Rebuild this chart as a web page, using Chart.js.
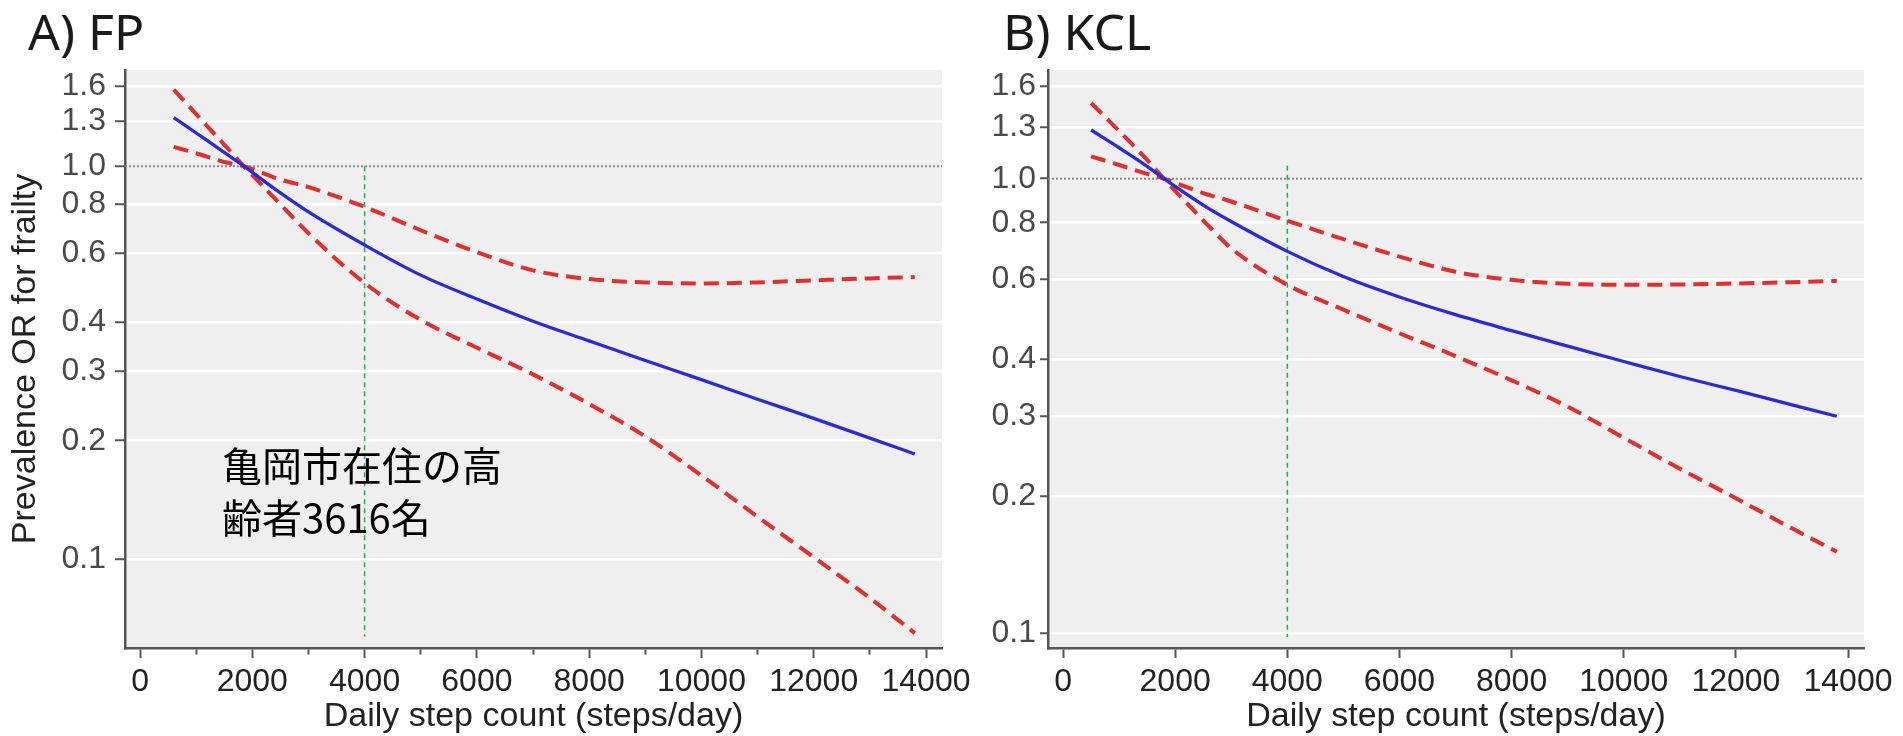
<!DOCTYPE html>
<html>
<head>
<meta charset="utf-8">
<script src="https://cdn.jsdelivr.net/npm/chart.js@4.4.1/dist/chart.umd.min.js"></script>
<style>
  html, body { margin: 0; padding: 0; background: #fff; }
  body { width: 1903px; height: 736px; position: relative; overflow: hidden; }
  canvas { position: absolute; top: 0; }
  #fp { left: 0; }
  #kcl { left: 960px; }
</style>
</head>
<body>
<canvas id="fp" width="985" height="736"></canvas>
<canvas id="kcl" width="943" height="736"></canvas>
<script>
// --- data ---
const fpSteps  = [600, 1000, 1500, 1850, 2500, 3000, 4000, 5000, 6000, 7000, 8000, 9000, 10000, 11000, 12000, 13000, 13800];
const fpOR     = [1.33, 1.215, 1.085, 1.0, 0.855, 0.765, 0.63, 0.528, 0.459, 0.403, 0.359, 0.32, 0.286, 0.255, 0.228, 0.203, 0.185];
const fpUpper  = [1.12, 1.079, 1.025, 1.0, 0.925, 0.885, 0.788, 0.687, 0.604, 0.543, 0.516, 0.506, 0.503, 0.506, 0.512, 0.518, 0.522];
const fpLower  = [1.567, 1.357, 1.135, 1.0, 0.8, 0.675, 0.504, 0.406, 0.345, 0.295, 0.248, 0.205, 0.163, 0.128, 0.101, 0.0795, 0.0647];

const kclSteps = [500, 1000, 1500, 1800, 2500, 3000, 4000, 5000, 6000, 7000, 8000, 9000, 10000, 11000, 12000, 13000, 13800];
const kclOR    = [1.28, 1.17, 1.065, 1.0, 0.875, 0.805, 0.692, 0.609, 0.549, 0.502, 0.463, 0.428, 0.396, 0.367, 0.342, 0.318, 0.3];
const kclUpper = [1.12, 1.072, 1.025, 1.0, 0.93, 0.891, 0.808, 0.736, 0.674, 0.624, 0.599, 0.587, 0.584, 0.585, 0.588, 0.592, 0.596];
const kclLower = [1.468, 1.274, 1.1, 1.0, 0.81, 0.703, 0.584, 0.515, 0.457, 0.407, 0.36, 0.315, 0.269, 0.23, 0.198, 0.17, 0.151];

const yTickValues = [0.1, 0.2, 0.3, 0.4, 0.6, 0.8, 1.0, 1.3, 1.6];
const xTicksFP  = [0, 1000, 2000, 3000, 4000, 5000, 6000, 7000, 8000, 9000, 10000, 11000, 12000, 13000, 14000];
const xTicksKCL = [0, 2000, 4000, 6000, 8000, 10000, 12000, 14000];

const xRange = [-268, 14285];
const yRangeFP = [0.0593, 1.758];
const yRangeKCL = [0.0927, 1.735];

const cutoffStep = 4000;
const cutoffSpanFP = [1.0, 0.0633];
const cutoffSpanKCL = [1.068, 0.098];

const noteLines = ['亀岡市在住の高', '齢者3616名'];
const notePos = { x: 1460, y: 0.173 };

const BLUE = '#2b2bd0';
const RED = '#e0302e';

Chart.defaults.font.family = '"Liberation Sans", Arial, sans-serif';

const plotBackground = {
  id: 'plotBackground',
  beforeDraw(chart) {
    const { ctx, chartArea: a } = chart;
    ctx.save();
    ctx.fillStyle = '#efefef';
    ctx.fillRect(a.left, a.top, a.right - a.left, a.bottom - a.top);
    ctx.restore();
  }
};

const panelText = {
  id: 'panelText',
  afterDraw(chart, args, opts) {
    const ctx = chart.ctx;
    ctx.save();
    ctx.fillStyle = '#1a1a1a';
    ctx.font = '50px "Noto Sans"';
    ctx.textBaseline = 'alphabetic';
    ctx.fillText(opts.label, opts.labelX, 50);
    if (opts.note) {
      const x = chart.scales.x.getPixelForValue(opts.note.x);
      const y = chart.scales.y.getPixelForValue(opts.note.y);
      ctx.fillStyle = '#000';
      ctx.font = '40px "Noto Sans CJK JP"';
      ctx.textBaseline = 'middle';
      opts.note.lines.forEach((t, i) => ctx.fillText(t, x, y + i * 52));
    }
    ctx.restore();
  }
};

const pairs = (xs, ys) => xs.map((x, i) => ({ x: x, y: ys[i] }));

function makeChart(id, c) {
  const curve = { pointRadius: 0, fill: false, cubicInterpolationMode: 'monotone' };
  return new Chart(document.getElementById(id), {
    type: 'line',
    data: {
      datasets: [
        { ...curve, data: pairs(c.steps, c.or), borderColor: BLUE, borderWidth: 3.3 },
        { ...curve, data: pairs(c.steps, c.upper), borderColor: RED, borderWidth: 4, borderDash: [15, 8] },
        { ...curve, data: pairs(c.steps, c.lower), borderColor: RED, borderWidth: 4, borderDash: [15, 8] },
        { data: [{ x: cutoffStep, y: c.cutoff[0] }, { x: cutoffStep, y: c.cutoff[1] }],
          borderColor: '#1fae5a', borderWidth: 1.5, borderDash: [5, 4], pointRadius: 0 },
        { data: [{ x: xRange[0], y: 1 }, { x: xRange[1], y: 1 }],
          borderColor: '#8a8a8a', borderWidth: 2, borderDash: [2, 2], pointRadius: 0 }
      ]
    },
    options: {
      responsive: false,
      animation: false,
      devicePixelRatio: 1,
      layout: { padding: { top: 70, right: c.padRight, left: 0, bottom: 0 } },
      plugins: {
        legend: { display: false },
        tooltip: { enabled: false },
        panelText: { label: c.label, labelX: c.labelX, note: c.note }
      },
      scales: {
        x: {
          type: 'linear',
          min: xRange[0],
          max: xRange[1],
          afterBuildTicks: s => { s.ticks = c.xTicks.map(v => ({ value: v })); },
          afterFit: s => { s.height = 88; s.paddingLeft = 0; s.paddingRight = 0; },
          ticks: {
            autoSkip: false, maxRotation: 0, padding: 5, color: '#222',
            font: { size: 32 },
            callback: v => (v % 2000 === 0 ? String(v) : '')
          },
          grid: {
            drawOnChartArea: false, tickLength: 10, tickColor: '#555', tickWidth: 2,
            tickBorderDash: t => (t.tick && t.tick.value % 2000 !== 0 ? [5, 40] : [])
          },
          border: { color: '#555', width: 2.5 },
          title: {
            display: true, text: 'Daily step count (steps/day)', color: '#222',
            font: { size: 34, lineHeight: 1 }, padding: { top: 0, bottom: 2 }
          }
        },
        y: {
          type: 'logarithmic',
          min: c.yRange[0],
          max: c.yRange[1],
          afterBuildTicks: s => { s.ticks = yTickValues.map(v => ({ value: v })); },
          afterFit: s => { s.width = c.yWidth; s.paddingTop = 0; s.paddingBottom = 0; },
          ticks: {
            autoSkip: false, padding: c.tickPad, color: '#4a4a4a',
            font: { size: 32 },
            callback: v => Number(v).toFixed(1)
          },
          grid: {
            color: t => (t.tick && t.tick.value === 1 ? 'rgba(0,0,0,0)' : '#ffffff'),
            lineWidth: 2.5, tickColor: '#555', tickWidth: 2, tickLength: c.tickLen
          },
          border: { color: '#555', width: 2.5 },
          title: {
            display: c.yTitle, text: 'Prevalence OR for frailty', color: '#222',
            font: { size: 34, lineHeight: 1 }, padding: { top: 9, bottom: 0 }
          }
        }
      }
    },
    plugins: [plotBackground, panelText]
  });
}

makeChart('fp', {
  steps: fpSteps, or: fpOR, upper: fpUpper, lower: fpLower,
  xTicks: xTicksFP, yRange: yRangeFP, cutoff: cutoffSpanFP,
  label: 'A) FP', labelX: 28, yTitle: true, yWidth: 125, tickLen: 10, tickPad: 9, padRight: 43,
  note: { lines: noteLines, x: notePos.x, y: notePos.y }
});

makeChart('kcl', {
  steps: kclSteps, or: kclOR, upper: kclUpper, lower: kclLower,
  xTicks: xTicksKCL, yRange: yRangeKCL, cutoff: cutoffSpanKCL,
  label: 'B) KCL', labelX: 43, yTitle: false, yWidth: 88, tickLen: 8, tickPad: 4, padRight: 39,
  note: null
});
</script>
</body>
</html>
